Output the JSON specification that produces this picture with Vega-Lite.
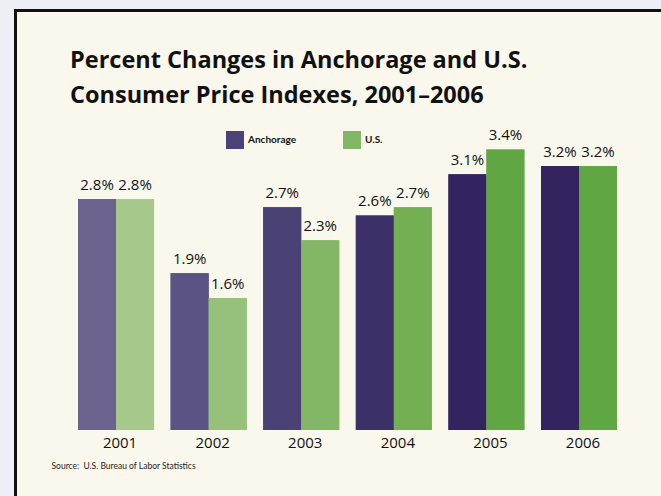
{
  "$schema": "https://vega.github.io/schema/vega-lite/v6.json",
  "autosize": {"type": "none"},
  "width": 646,
  "height": 486,
  "padding": {"left": 15, "top": 10, "right": 0, "bottom": 0},
  "background": "#eceff4",
  "config": {
    "view": {"fill": "#faf8ed", "stroke": null},
    "font": "Open Sans",
    "axis": {"grid": false}
  },
  "title": {
    "text": ["Percent Changes in Anchorage and U.S.", "Consumer Price Indexes, 2001–2006"],
    "anchor": "start",
    "frame": "group",
    "orient": "top",
    "font": "Open Sans",
    "fontSize": 23.5,
    "fontWeight": "bold",
    "color": "#111111",
    "lineHeight": 34.5,
    "dx": 55,
    "offset": -97
  },
  "data": {
    "values": [
      {"year": "2001", "series": "Anchorage", "value": 2.8, "label": "2.8%"},
      {"year": "2001", "series": "U.S.", "value": 2.8, "label": "2.8%"},
      {"year": "2002", "series": "Anchorage", "value": 1.9, "label": "1.9%"},
      {"year": "2002", "series": "U.S.", "value": 1.6, "label": "1.6%"},
      {"year": "2003", "series": "Anchorage", "value": 2.7, "label": "2.7%"},
      {"year": "2003", "series": "U.S.", "value": 2.3, "label": "2.3%"},
      {"year": "2004", "series": "Anchorage", "value": 2.6, "label": "2.6%"},
      {"year": "2004", "series": "U.S.", "value": 2.7, "label": "2.7%"},
      {"year": "2005", "series": "Anchorage", "value": 3.1, "label": "3.1%"},
      {"year": "2005", "series": "U.S.", "value": 3.4, "label": "3.4%"},
      {"year": "2006", "series": "Anchorage", "value": 3.2, "label": "3.2%"},
      {"year": "2006", "series": "U.S.", "value": 3.2, "label": "3.2%"}
    ]
  },
  "encoding": {
    "xOffset": {"field": "series", "type": "nominal", "scale": {"domain": ["Anchorage", "U.S."], "paddingInner": 0, "paddingOuter": 0}},
    "y": {
      "field": "value",
      "type": "quantitative",
      "scale": {"domain": [-0.8, 5.0909], "nice": false, "zero": false},
      "axis": {"orient": "left", "labels": false, "ticks": false, "title": null, "grid": false, "domain": true, "domainColor": "#111111", "domainWidth": 3, "domainCap": "square"}
    }
  },
  "layer": [
    {
      "mark": {"type": "bar"},
      "encoding": {
        "x": {
          "field": "year", "type": "nominal",
          "scale": {"paddingInner": 0.179, "paddingOuter": 0.578, "align": 0.589},
          "axis": {
            "orient": "bottom", "offset": -66, "domain": false, "ticks": false,
            "labelAngle": 0, "labelFont": "Open Sans", "labelFontSize": 15, "labelColor": "#111111",
            "labelPadding": 5, "labelOffset": 4,
            "title": "Source:\u00a0 U.S. Bureau of Labor Statistics",
            "titleFont": "Lato", "titleFontSize": 8.5, "titleFontWeight": "normal", "titleColor": "#222222",
            "titleAnchor": "start", "titleAlign": "left", "titleBaseline": "alphabetic", "titleX": 36, "titleY": 38
          }
        },
        "y2": {"datum": 0},
        "color": {
          "field": "series", "type": "nominal",
          "scale": {"domain": ["Anchorage", "U.S."], "range": ["#4b4377", "#80b866"]},
          "legend": {
            "orient": "none", "legendX": 211, "legendY": 121, "direction": "horizontal", "title": null,
            "symbolType": "square", "symbolSize": 324, "symbolStrokeWidth": 0,
            "labelFont": "Lato", "labelFontWeight": "bold", "labelFontSize": 10, "labelColor": "#111111",
            "labelOffset": 4, "columnPadding": 46, "padding": 0
          }
        }
      }
    },
    {
      "transform": [{"filter": "datum.series === 'Anchorage'"}],
      "mark": {"type": "bar"},
      "encoding": {
        "x": {"field": "year", "type": "nominal", "axis": null},
        "y2": {"datum": 0},
        "color": {
          "field": "year", "type": "nominal",
          "scale": {"domain": ["2001", "2002", "2003", "2004", "2005", "2006"], "range": ["#6c648e", "#5b5384", "#4a4174", "#3b3168", "#33245f", "#33245f"]},
          "legend": null
        }
      }
    },
    {
      "transform": [{"filter": "datum.series === 'U.S.'"}],
      "mark": {"type": "bar"},
      "encoding": {
        "x": {"field": "year", "type": "nominal", "axis": null},
        "y2": {"datum": 0},
        "color": {
          "field": "year", "type": "nominal",
          "scale": {"domain": ["2001", "2002", "2003", "2004", "2005", "2006"], "range": ["#a6c88a", "#96c17a", "#83b766", "#74af53", "#60a642", "#5fa742"]},
          "legend": null
        }
      }
    },
    {
      "mark": {"type": "text", "font": "Open Sans", "fontSize": 15, "color": "#111111", "baseline": "alphabetic", "dy": -9},
      "encoding": {
        "x": {
          "field": "year", "type": "nominal",
          "axis": {"orient": "top", "labels": false, "ticks": false, "title": null, "domain": true, "domainColor": "#111111", "domainWidth": 3, "domainCap": "square"}
        },
        "text": {"field": "label"}
      }
    }
  ],
  "resolve": {"scale": {"color": "independent"}, "axis": {"x": "independent"}}
}
